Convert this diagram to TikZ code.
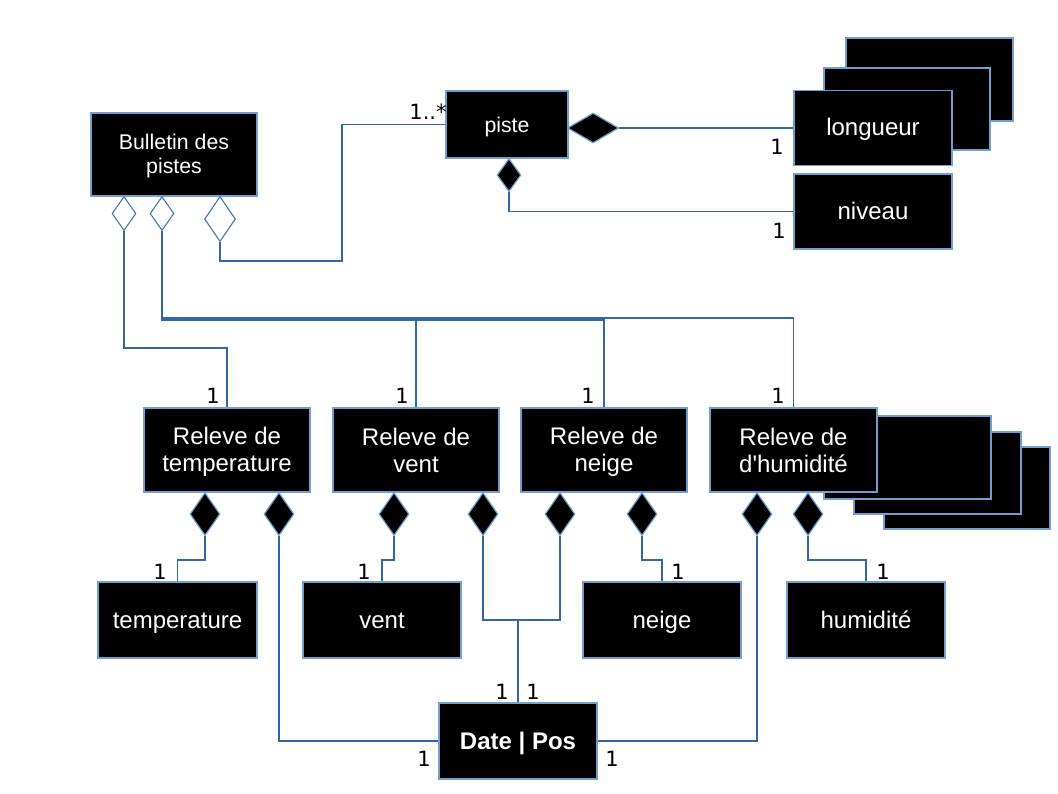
\documentclass[tikz,border=0pt]{standalone}
\usepackage{fontspec}
\setmainfont{Liberation Sans}[Ligatures=TeXOff]
\newfontfamily\boxfont{Liberation Sans}[Ligatures=TeXOff]
\newfontfamily\labfont{DejaVu Sans}
\usetikzlibrary{shapes.geometric}
\definecolor{edgeblue}{HTML}{729FCF}
\definecolor{wireblue}{HTML}{3465A4}
\newcommand{\twolines}[2]{\rule{0pt}{21pt}#1\\#2\rule[-4pt]{0pt}{4pt}}
\newcommand{\twosmall}[2]{\rule{0pt}{19pt}#1\\#2\rule[-4pt]{0pt}{4pt}}
\tikzset{
 box/.style={draw=edgeblue, fill=black, text=white, line width=1.2pt, inner sep=0pt, align=center, font=\boxfont\fontsize{24}{27}\selectfont},
 oneline/.style={box, text height=20pt, text depth=4pt},
 smallbox/.style={box, font=\boxfont\fontsize{21.3}{24}\selectfont},
 fdia/.style={diamond, draw=edgeblue, fill=black, line width=1.2pt, inner sep=0pt, anchor=north, minimum width=30pt, minimum height=43pt},
 hdia/.style={diamond, draw=wireblue!70!edgeblue, fill=white, line width=1.1pt, inner sep=0pt, anchor=north},
 wire/.style={draw=wireblue, line width=1.15pt},
 mult/.style={font=\labfont\fontsize{21}{21}\selectfont, text=black, inner sep=0pt},
}
\begin{document}
\begin{tikzpicture}[x=1pt,y=-1pt]
\useasboundingbox (0,0) rectangle (1058,794);
% top-left
\node[smallbox, minimum width=166pt, minimum height=83pt] (bull) at (174,154.5) {\twosmall{Bulletin des}{pistes}};
\node[smallbox, text height=21pt, text depth=4pt, minimum width=122pt, minimum height=67pt] (piste) at (507,124.5) {piste};
% stacked boxes behind longueur
\node[box, minimum width=167pt, minimum height=83pt] (lback) at (929.5,79.5) {};
\node[box, minimum width=166pt, minimum height=82pt] (lmid) at (907,109) {};
\node[oneline, minimum width=158pt, minimum height=75pt] (long) at (873,128) {longueur};
\node[oneline, minimum width=158pt, minimum height=75pt] (niv) at (873,211.5) {niveau};
% stacked boxes behind humidite releve
\node[box, minimum width=166pt, minimum height=82pt] (hs3) at (967,488) {};
\node[box, minimum width=167pt, minimum height=82pt] (hs2) at (937.5,473) {};
\node[box, minimum width=167pt, minimum height=83pt] (hs1) at (907.5,457.5) {};
% releve boxes
\node[box, minimum width=166pt, minimum height=84pt] (rtemp) at (227,450) {\twolines{Releve de}{temperature}};
\node[box, minimum width=166pt, minimum height=84pt] (rvent) at (416,450) {\twolines{Releve de}{vent}};
\node[box, minimum width=166pt, minimum height=84pt] (rneige) at (604,450) {\twolines{Releve de}{neige}};
\node[box, minimum width=167pt, minimum height=84pt] (rhum) at (793.5,450) {\twolines{Releve de}{d'humidité}};
% leaf boxes
\node[oneline, minimum width=159pt, minimum height=76pt] (temp) at (177.5,620) {temperature};
\node[oneline, minimum width=158pt, minimum height=76pt] (vent) at (382,620) {vent};
\node[oneline, minimum width=158pt, minimum height=76pt] (neige) at (662,620) {neige};
\node[oneline, minimum width=158pt, minimum height=76pt] (hum) at (866,620) {humidité};
\node[oneline, minimum width=158pt, minimum height=76pt, font=\boxfont\bfseries\fontsize{24}{27}\selectfont] (date) at (518,741) {Date | Pos};
% diamonds
\node[hdia, minimum width=24pt, minimum height=34pt] (bd1) at (124,196) {};
\node[hdia, minimum width=24pt, minimum height=34pt] (bd2) at (162,196) {};
\node[hdia, minimum width=31pt, minimum height=45pt] (bd3) at (220,196) {};
\node[fdia, anchor=west, minimum width=51pt, minimum height=30pt] (pd1) at (567,128) {};
\node[fdia, minimum width=24pt, minimum height=33pt] (pd2) at (509,158) {};
\node[fdia] (td1) at (205,492) {};
\node[fdia] (td2) at (279,492) {};
\node[fdia] (vd1) at (394,492) {};
\node[fdia] (vd2) at (483,492) {};
\node[fdia] (nd1) at (560,492) {};
\node[fdia] (nd2) at (642,492) {};
\node[fdia] (hd1) at (757,492) {};
\node[fdia] (hd2) at (808,492) {};
% junction coordinates
\coordinate (jdate) at (518,620);
\coordinate (jvent) at (416,320);
% wires
\path[wire] (bd3.south) -- (220,261) -| (342,124.5) -- (piste.west);
\path[wire] (bd1.south) -- (124,348) -| (rtemp.north);
\path[wire] (bd2.south) -- (162,320) -| (rneige.north);
\path[wire] (bd2.south) -- (162,318) -| (rhum.north);
\path[wire] (jvent) -- (rvent.north);
\path[wire] (pd1.east) -- (long.west);
\path[wire] (pd2.south) |- (niv.west);
\path[wire] (td1.south) -- (205,560) -| (temp.north);
\path[wire] (td2.south) |- (date.west);
\path[wire] (vd1.south) -- (394,560) -| (vent.north);
\path[wire] (vd2.south) |- (jdate);
\path[wire] (nd1.south) |- (jdate);
\path[wire] (jdate) -- (date.north);
\path[wire] (nd2.south) -- (642,560) -| (neige.north);
\path[wire] (hd1.south) |- (date.east);
\path[wire] (hd2.south) -- (808,560) -| (hum.north);
% multiplicities
\node[mult] (m1) at (428,112) {1..*};
\node[mult] (m2) at (777,147) {1};
\node[mult] (m3) at (779,231) {1};
\node[mult] (m4) at (213,396) {1};
\node[mult] (m5) at (402,396) {1};
\node[mult] (m6) at (588,396) {1};
\node[mult] (m7) at (778,396) {1};
\node[mult] (m8) at (160,572) {1};
\node[mult] (m9) at (364,572) {1};
\node[mult] (m10) at (678,572) {1};
\node[mult] (m11) at (883,572) {1};
\node[mult] (m12) at (502,692) {1};
\node[mult] (m13) at (533,692) {1};
\node[mult] (m14) at (424,759) {1};
\node[mult] (m15) at (612,759) {1};
\end{tikzpicture}
\end{document}
